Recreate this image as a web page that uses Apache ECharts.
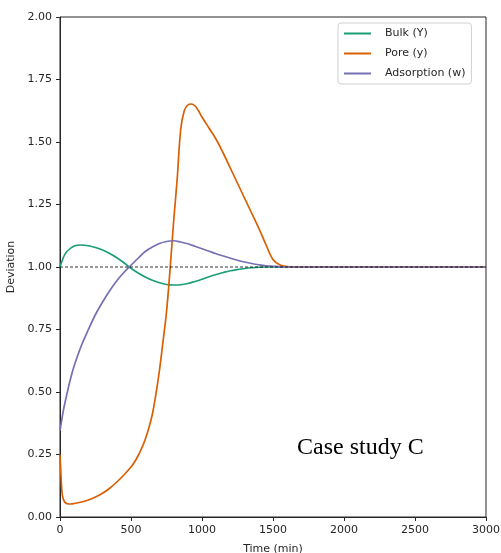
<!DOCTYPE html>
<html>
<head>
<meta charset="utf-8">
<script src="https://cdn.jsdelivr.net/npm/echarts@6/dist/echarts.min.js"></script>
<style>
  html, body { margin: 0; padding: 0; background: #fff; }
  #chart { width: 501px; height: 553px; }
</style>
</head>
<body>
<div id="chart"></div>
<script>
  // values
  var bulkT = [0, 25, 50, 100, 150, 200, 250, 300, 350, 400, 450, 500, 550, 600, 650, 700, 750, 800, 850, 900, 950, 1000, 1050, 1100, 1150, 1200, 1250, 1300, 1350, 1400, 1450, 3000]
  var bulkY = [1.0, 1.04, 1.063, 1.084, 1.088, 1.085, 1.078, 1.068, 1.054, 1.037, 1.017, 0.995, 0.976, 0.96, 0.947, 0.937, 0.93, 0.928, 0.929, 0.934, 0.942, 0.951, 0.961, 0.97, 0.978, 0.985, 0.99, 0.994, 0.997, 0.999, 1.0, 1.0]

  var poreT = [0, 5, 10, 15, 20, 30, 40, 50, 75, 100, 150, 200, 250, 300, 350, 400, 450, 500, 525, 550, 575, 600, 625, 650, 675, 700, 725, 750, 775, 800, 825, 850, 875, 900, 925, 950, 975, 1000, 1050, 1100, 1150, 1200, 1250, 1300, 1350, 1400, 1450, 1500, 1550, 1600, 1650, 3000]
  var poreY = [0.25, 0.19, 0.13, 0.095, 0.078, 0.063, 0.056, 0.053, 0.052, 0.054, 0.06, 0.068, 0.08, 0.095, 0.115, 0.14, 0.168, 0.2, 0.22, 0.245, 0.275, 0.31, 0.355, 0.41, 0.49, 0.585, 0.7, 0.82, 0.99, 1.18, 1.35, 1.55, 1.625, 1.648, 1.652, 1.645, 1.625, 1.6, 1.555, 1.51, 1.455, 1.395, 1.335, 1.275, 1.215, 1.155, 1.09, 1.03, 1.008, 1.002, 1.0, 1.0]

  var adsT = [0, 25, 50, 75, 100, 150, 200, 250, 300, 350, 400, 450, 500, 550, 600, 650, 700, 750, 800, 850, 900, 950, 1000, 1050, 1100, 1150, 1200, 1250, 1300, 1350, 1400, 1450, 1500, 1550, 1600, 3000]
  var adsY = [0.345, 0.43, 0.495, 0.555, 0.605, 0.685, 0.75, 0.81, 0.86, 0.905, 0.945, 0.978, 1.007, 1.035, 1.062, 1.08, 1.094, 1.102, 1.105, 1.1, 1.093, 1.083, 1.073, 1.063, 1.053, 1.044, 1.035, 1.027, 1.02, 1.014, 1.009, 1.005, 1.003, 1.001, 1.0, 1.0]

  var names = ['Bulk (Y)', 'Pore (y)', 'Adsorption (w)']
  var colors = ['#1b9e77', '#d95f02', '#7570b3']

  function pairs(t, y) {
    return t.map(function (v, i) { return [v, y[i]] })
  }

  function curve(name, color, t, y) {
    return {
      name: name,
      type: 'line',
      data: pairs(t, y),
      showSymbol: false,
      smooth: 0.35,
      lineStyle: { color: color, width: 1.7 },
      itemStyle: { color: color },
      z: 3
    }
  }

  var axisText = { color: '#262626', fontSize: 11, fontFamily: 'DejaVu Sans' }

  var chart = echarts.init(document.getElementById('chart'))
  chart.setOption({
    animation: false,
    grid: {
      left: 60, right: 15, top: 17, bottom: 36,
      outerBoundsMode: 'none',
      containLabel: false,
      show: true, borderColor: '#262626', borderWidth: 1
    },
    legend: {
      data: names,
      orient: 'vertical',
      left: 338,
      top: 23,
      width: 138,
      padding: [4, 6, 4, 6],
      borderColor: '#d0d0d0',
      borderWidth: 1,
      borderRadius: 3,
      itemGap: 7,
      itemWidth: 27,
      itemHeight: 2,
      icon: 'rect',
      textStyle: {
        color: '#262626', fontSize: 11, fontFamily: 'DejaVu Sans',
        lineHeight: 13, padding: [0, 0, 0, 9]
      }
    },
    xAxis: {
      type: 'value',
      min: 0, max: 3000, interval: 500,
      name: 'Time (min)',
      nameLocation: 'middle',
      nameGap: 27,
      nameTextStyle: axisText,
      axisLine: { show: true, lineStyle: { color: '#262626', width: 1 } },
      axisTick: { show: true, length: 4, lineStyle: { color: '#262626' } },
      axisLabel: {
        color: '#262626', fontSize: 11, fontFamily: 'DejaVu Sans',
        formatter: function (v) { return String(v) }
      },
      splitLine: { show: false }
    },
    yAxis: {
      type: 'value',
      min: 0, max: 2, interval: 0.25,
      name: 'Deviation',
      nameLocation: 'middle',
      nameGap: 38,
      nameTextStyle: axisText,
      axisLine: { show: true, lineStyle: { color: '#262626', width: 1 } },
      axisTick: { show: true, length: 4, lineStyle: { color: '#262626' } },
      axisLabel: {
        color: '#262626', fontSize: 11, fontFamily: 'DejaVu Sans',
        formatter: function (v) { return v.toFixed(2) }
      },
      splitLine: { show: false }
    },
    graphic: [{
      type: 'text',
      left: 297,
      top: 436,
      style: {
        text: 'Case study C',
        font: '24px "Liberation Serif", "Times New Roman", serif',
        fill: '#000'
      }
    }],
    series: [
      curve(names[0], colors[0], bulkT, bulkY),
      curve(names[1], colors[1], poreT, poreY),
      curve(names[2], colors[2], adsT, adsY),
      {
        name: 'ref',
        type: 'line',
        data: [[0, 1], [3000, 1]],
        showSymbol: false,
        silent: true,
        lineStyle: { color: '#000', width: 0.8, type: [3, 2] },
        z: 4
      }
    ]
  })
</script>
</body>
</html>
